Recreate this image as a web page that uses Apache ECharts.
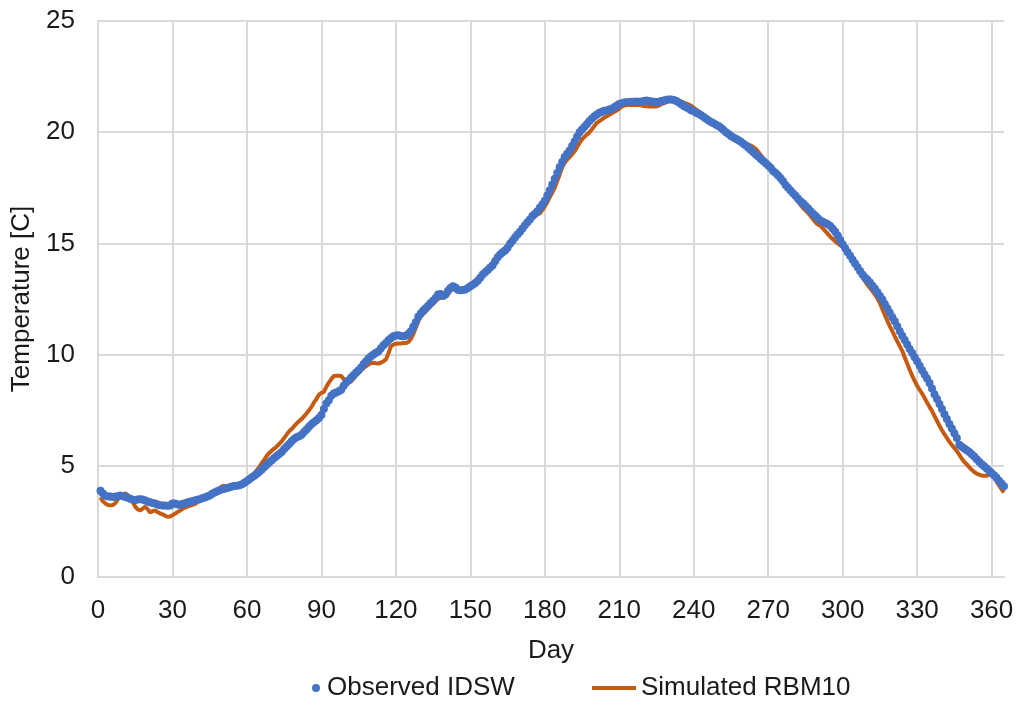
<!DOCTYPE html>
<html>
<head>
<meta charset="utf-8">
<title>Observed vs simulated water temperature</title>
<script src="https://cdn.jsdelivr.net/npm/echarts@6/dist/echarts.min.js"></script>
<style>
  html, body { margin: 0; padding: 0; background: #fff; }
  #chart { width: 1019px; height: 706px; }
</style>
</head>
<body>
<div id="chart"></div>
<script>
// day of year, 1..365
const days = Array.from({ length: 365 }, (_, i) => i + 1);

const xTicks = [0, 30, 60, 90, 120, 150, 180, 210, 240, 270, 300, 330, 360];
const yTicks = [0, 5, 10, 15, 20, 25];

// Observed IDSW, daily temperature [C]
const observed = [
  3.88, 3.75, 3.65, 3.62, 3.62, 3.6, 3.62, 3.63, 3.66, 3.64,
  3.6, 3.56, 3.52, 3.47, 3.46, 3.48, 3.5, 3.49, 3.44, 3.4,
  3.36, 3.33, 3.3, 3.26, 3.23, 3.22, 3.21, 3.2, 3.22, 3.3,
  3.3, 3.26, 3.25, 3.28, 3.32, 3.35, 3.38, 3.41, 3.44, 3.47,
  3.5, 3.54, 3.58, 3.62, 3.67, 3.74, 3.8, 3.86, 3.9, 3.94,
  3.97, 4.0, 4.04, 4.07, 4.09, 4.1, 4.13, 4.17, 4.24, 4.32,
  4.4, 4.48, 4.55, 4.64, 4.73, 4.83, 4.95, 5.05, 5.15, 5.25,
  5.35, 5.44, 5.53, 5.62, 5.75, 5.87, 5.98, 6.1, 6.2, 6.28,
  6.33, 6.4, 6.52, 6.63, 6.76, 6.87, 6.96, 7.05, 7.15, 7.28,
  7.55, 7.8, 7.95, 8.15, 8.25, 8.3, 8.35, 8.42, 8.6, 8.74,
  8.85, 8.97, 9.08, 9.2, 9.3, 9.42, 9.58, 9.7, 9.82, 9.93,
  10.0, 10.08, 10.15, 10.28, 10.42, 10.52, 10.65, 10.74, 10.82, 10.86,
  10.87, 10.84, 10.82, 10.85, 10.93, 11.05, 11.25, 11.45, 11.7, 11.85,
  11.98, 12.08, 12.2, 12.32, 12.42, 12.55, 12.7, 12.72, 12.63, 12.7,
  12.87, 13.0, 13.07, 13.02, 12.92, 12.89, 12.9, 12.93, 13.0, 13.07,
  13.14, 13.22, 13.32, 13.45, 13.6, 13.7, 13.8, 13.92, 14.02, 14.2,
  14.38, 14.5, 14.6, 14.68, 14.8, 14.98, 15.12, 15.26, 15.4, 15.52,
  15.67, 15.82, 15.95, 16.08, 16.23, 16.33, 16.45, 16.6, 16.75, 16.92,
  17.15, 17.39, 17.65, 17.91, 18.17, 18.43, 18.66, 18.88, 19.03, 19.18,
  19.38, 19.58, 19.8, 20.0, 20.12, 20.25, 20.37, 20.5, 20.62, 20.72,
  20.8, 20.87, 20.92, 20.96, 20.98, 21.02, 21.06, 21.12, 21.2, 21.27,
  21.3, 21.33, 21.35, 21.36, 21.37, 21.37, 21.38, 21.37, 21.38, 21.4,
  21.42, 21.4, 21.38, 21.37, 21.36, 21.37, 21.4, 21.43, 21.46, 21.47,
  21.47, 21.45, 21.4, 21.33, 21.26, 21.18, 21.12, 21.05, 20.99, 20.94,
  20.88, 20.83, 20.76, 20.68, 20.6, 20.53, 20.46, 20.4, 20.34, 20.28,
  20.2, 20.1, 20.0, 19.92, 19.83, 19.76, 19.7, 19.64, 19.57, 19.48,
  19.4, 19.3, 19.2, 19.1, 19.0, 18.91, 18.8, 18.7, 18.6, 18.5,
  18.4, 18.26, 18.17, 18.05, 17.93, 17.79, 17.63, 17.5, 17.38, 17.25,
  17.14, 17.02, 16.9, 16.8, 16.69, 16.58, 16.46, 16.35, 16.24, 16.13,
  16.03, 15.97, 15.92, 15.86, 15.78, 15.66, 15.52, 15.35, 15.15, 14.96,
  14.78, 14.6, 14.44, 14.27, 14.1, 13.93, 13.76, 13.6, 13.47, 13.36,
  13.24, 13.1, 12.96, 12.8, 12.63, 12.48, 12.28, 12.08, 11.88, 11.68,
  11.5, 11.28, 11.05, 10.85, 10.66, 10.45, 10.25, 10.07, 9.88, 9.7,
  9.5, 9.3, 9.1, 8.92, 8.72, 8.48, 8.22, 8.0, 7.78, 7.55,
  7.32, 7.1, 6.88, 6.68, 6.46, 6.25, 5.95, 5.86, 5.78, 5.7,
  5.62, 5.52, 5.42, 5.3, 5.18, 5.07, 4.98, 4.88, 4.78, 4.68,
  4.58, 4.46, 4.33, 4.2, 4.08
];

// Simulated RBM10, daily temperature [C]
const simulated = [
  3.58, 3.4, 3.3, 3.24, 3.22, 3.24, 3.32, 3.5, 3.65, 3.72,
  3.76, 3.68, 3.56, 3.38, 3.16, 3.04, 3.0, 3.08, 3.16, 3.05,
  2.9, 2.96, 3.0, 2.92, 2.86, 2.82, 2.76, 2.71, 2.72, 2.78,
  2.84, 2.92, 2.98, 3.06, 3.12, 3.16, 3.2, 3.24, 3.28, 3.36,
  3.44, 3.52, 3.58, 3.64, 3.7, 3.76, 3.82, 3.9, 3.98, 4.08,
  4.1, 4.06, 4.08, 4.12, 4.16, 4.16, 4.13, 4.13, 4.18, 4.26,
  4.34, 4.5, 4.66, 4.8, 4.95, 5.12, 5.28, 5.45, 5.58, 5.68,
  5.77, 5.87, 5.98, 6.1, 6.25, 6.4, 6.55, 6.65, 6.78, 6.9,
  7.0, 7.1, 7.22, 7.35, 7.5, 7.65, 7.85, 8.0, 8.2, 8.28,
  8.32, 8.55, 8.74, 8.9, 9.04, 9.05, 9.05, 9.04, 8.9, 8.74,
  8.76, 8.8, 8.92, 9.06, 9.18, 9.3, 9.4, 9.48, 9.56, 9.62,
  9.63, 9.61, 9.6, 9.64, 9.7, 9.78, 10.05, 10.37, 10.45, 10.49,
  10.5, 10.5, 10.52, 10.52, 10.56, 10.7, 10.92, 11.2, 11.5, 11.7,
  11.83, 11.93, 12.05, 12.17, 12.28, 12.4, 12.5, 12.56, 12.6, 12.6,
  12.7, 12.89, 12.95, 12.9, 12.85, 12.85, 12.88, 12.9, 12.95, 13.0,
  13.06, 13.14, 13.24, 13.37, 13.52, 13.62, 13.72, 13.84, 13.94, 14.1,
  14.28, 14.42, 14.52, 14.6, 14.7, 14.88, 15.02, 15.16, 15.3, 15.42,
  15.56, 15.72, 15.86, 16.0, 16.12, 16.22, 16.3, 16.36, 16.5, 16.66,
  16.85, 17.08, 17.28, 17.5, 17.8, 18.1, 18.42, 18.62, 18.77, 18.88,
  19.0, 19.15, 19.33, 19.52, 19.68, 19.8, 19.9, 20.0, 20.13, 20.28,
  20.42, 20.5, 20.58, 20.66, 20.72, 20.78, 20.85, 20.92, 20.98, 21.05,
  21.15, 21.2, 21.22, 21.22, 21.22, 21.22, 21.22, 21.22, 21.2, 21.18,
  21.17, 21.16, 21.16, 21.16, 21.16, 21.2, 21.26, 21.3, 21.35, 21.4,
  21.42, 21.42, 21.4, 21.39, 21.37, 21.33, 21.29, 21.24, 21.19, 21.1,
  21.02, 20.93, 20.85, 20.76, 20.67, 20.58, 20.5, 20.42, 20.33, 20.23,
  20.13, 20.04, 19.95, 19.86, 19.77, 19.68, 19.62, 19.57, 19.53, 19.5,
  19.47, 19.44, 19.4, 19.33, 19.25, 19.12, 18.97, 18.83, 18.7, 18.56,
  18.43, 18.3, 18.17, 18.05, 17.92, 17.79, 17.63, 17.48, 17.33, 17.18,
  17.03, 16.88, 16.74, 16.6, 16.49, 16.38, 16.24, 16.1, 15.96, 15.85,
  15.8, 15.68, 15.55, 15.43, 15.3, 15.2, 15.1, 15.0, 14.92, 14.85,
  14.72, 14.6, 14.46, 14.33, 14.12, 13.9, 13.66, 13.48, 13.3, 13.14,
  13.0, 12.86, 12.7, 12.52, 12.32, 12.04, 11.78, 11.52, 11.28, 11.05,
  10.82, 10.6, 10.38, 10.17, 9.88, 9.6, 9.32, 9.05, 8.82, 8.6,
  8.42, 8.25, 8.05, 7.85, 7.65, 7.46, 7.24, 7.02, 6.8, 6.6,
  6.42, 6.25, 6.08, 5.94, 5.8, 5.66, 5.5, 5.32, 5.18, 5.06,
  4.94, 4.82, 4.72, 4.65, 4.6, 4.56, 4.55, 4.55, 4.6, 4.76,
  4.5, 4.3, 4.12, 3.95, 3.8
];

const FONT = "'Liberation Sans', Arial, sans-serif";
const TEXT = "#1a1a1a";
const GRID = "#d9d9d9";

const chart = echarts.init(document.getElementById("chart"), null, { renderer: "canvas" });

chart.setOption({
  animation: false,
  backgroundColor: "#ffffff",
  textStyle: { fontFamily: FONT, color: TEXT },
  grid: { left: 98, top: 21, right: 15, bottom: 129 },
  legend: [
    {
      data: [{ name: "Observed IDSW", icon: "circle" }],
      left: 307,
      top: 670,
      itemWidth: 12,
      itemHeight: 8,
      textStyle: { fontFamily: FONT, fontSize: 26, color: TEXT }
    },
    {
      data: [{ name: "Simulated RBM10", icon: "rect" }],
      left: 587,
      top: 670,
      itemWidth: 44,
      itemHeight: 4,
      textStyle: { fontFamily: FONT, fontSize: 26, color: TEXT }
    }
  ],
  xAxis: {
    type: "value",
    min: 0,
    max: 365,
    interval: 30,
    name: "Day",
    nameLocation: "middle",
    nameGap: 61,
    nameTextStyle: { fontFamily: FONT, fontSize: 26, color: TEXT },
    axisLine: { show: true, lineStyle: { color: GRID, width: 2 } },
    axisTick: { show: false },
    axisLabel: {
      margin: 21,
      fontSize: 26,
      color: TEXT,
      fontFamily: FONT,
      showMaxLabel: false,
      formatter: (v) => (xTicks.includes(v) ? String(v) : "")
    },
    splitLine: { show: true, showMaxLine: false, lineStyle: { color: GRID, width: 2 } }
  },
  yAxis: {
    type: "value",
    min: yTicks[0],
    max: yTicks[yTicks.length - 1],
    interval: 5,
    name: "Temperature [C]",
    nameLocation: "middle",
    nameGap: 60,
    nameTextStyle: { fontFamily: FONT, fontSize: 26, color: TEXT },
    axisLine: { show: true, lineStyle: { color: GRID, width: 2 } },
    axisTick: { show: false },
    axisLabel: { margin: 23, fontSize: 26, color: TEXT, fontFamily: FONT },
    splitLine: { show: true, lineStyle: { color: GRID, width: 2 } }
  },
  series: [
    {
      name: "Simulated RBM10",
      type: "line",
      data: days.map((d, i) => [d, simulated[i]]),
      showSymbol: false,
      symbol: "none",
      lineStyle: { color: "#C55A11", width: 4 },
      itemStyle: { color: "#C55A11" },
      z: 2
    },
    {
      name: "Observed IDSW",
      type: "scatter",
      data: days.map((d, i) => [d, observed[i]]),
      symbolSize: 8,
      itemStyle: { color: "#4472C4", opacity: 1 },
      z: 3
    }
  ]
});
</script>
</body>
</html>
